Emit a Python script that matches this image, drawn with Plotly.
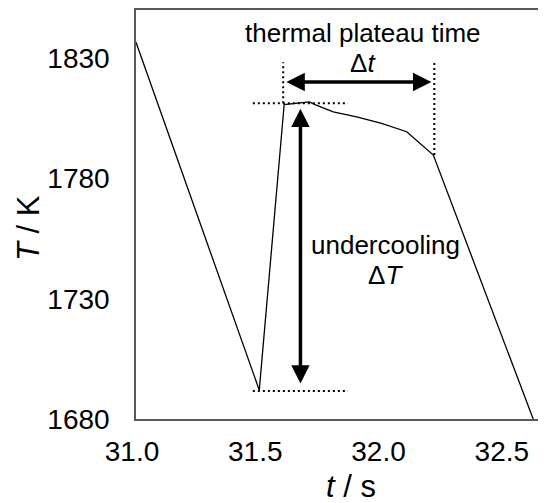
import plotly.graph_objects as go

# curve data (time in s, temperature in K)
t_vals = [31.0, 31.50, 31.601, 31.703, 31.726, 31.800, 31.895, 31.996, 32.098, 32.206, 32.611, 32.70]
T_vals = [1836.6, 1692.0, 1810.7, 1811.8, 1810.7, 1807.7, 1805.6, 1802.9, 1799.4, 1789.7, 1680.0, 1655.9]

x_ticks = [31.0, 31.5, 32.0, 32.5]
x_tick_labels = ["31.0", "31.5", "32.0", "32.5"]
y_ticks = [1680, 1730, 1780, 1830]
y_tick_labels = ["1680", "1730", "1780", "1830"]

# annotation guide values
t_plateau_start = 31.597
t_plateau_end = 32.210
T_plateau = 1811.2
T_min_guide = 1691.6
guide_x0, guide_x1 = 31.474, 31.860
guide_top = 1828.3
T_shoulder = 1789.7
arrow_h_y = 1820.1
arrow_h_x0, arrow_h_x1 = 31.604, 32.198
arrow_v_x = 31.667
arrow_v_y0, arrow_v_y1 = 1694.1, 1809.0

FONT = "Liberation Sans, Arial, sans-serif"

fig = go.Figure()
fig.add_trace(go.Scatter(x=t_vals, y=T_vals, mode="lines",
                         line=dict(color="black", width=1.3), showlegend=False,
                         hoverinfo="skip"))

dot = dict(color="black", width=2, dash="2px,3px")
shapes = [
    dict(type="line", x0=t_plateau_start, x1=t_plateau_start, y0=T_plateau, y1=guide_top, line=dot),
    dict(type="line", x0=t_plateau_end, x1=t_plateau_end, y0=T_shoulder, y1=guide_top, line=dot),
    dict(type="line", x0=guide_x0, x1=guide_x1, y0=T_plateau, y1=T_plateau, line=dot),
    dict(type="line", x0=guide_x0, x1=guide_x1, y0=T_min_guide, y1=T_min_guide, line=dot),
]
for s in shapes:
    s.update(xref="x", yref="y")
fig.update_layout(shapes=shapes)

arrow_common = dict(xref="x", yref="y", axref="x", ayref="y", text="",
                    showarrow=True, arrowhead=2, startarrowhead=2, arrowside="end+start",
                    arrowwidth=3.5, arrowsize=1.05, startarrowsize=1.05, arrowcolor="black")
fig.add_annotation(x=arrow_h_x1, y=arrow_h_y, ax=arrow_h_x0, ay=arrow_h_y, **arrow_common)
fig.add_annotation(x=arrow_v_x, y=arrow_v_y1, ax=arrow_v_x, ay=arrow_v_y0, **arrow_common)

txt = dict(xref="x", yref="y", showarrow=False, font=dict(family=FONT, size=26, color="black"),
           xanchor="center", yanchor="middle")
fig.add_annotation(x=31.920, y=1840.4, text="thermal plateau time", **txt)
fig.add_annotation(x=31.920, y=1827.9, text="Δ<i>t</i>", **txt)
fig.add_annotation(x=32.012, y=1752.3, text="undercooling", **txt)
fig.add_annotation(x=32.010, y=1739.8, text="Δ<i>T</i>", **txt)

# axis titles
fig.add_annotation(xref="paper", yref="paper", x=(28 - 136) / 410, y=(419 - 228) / 409,
                   text="<i>T</i> / K", textangle=-90, showarrow=False,
                   font=dict(family=FONT, size=31, color="black"),
                   xanchor="center", yanchor="middle")
fig.add_annotation(xref="paper", yref="paper", x=(351 - 136) / 410, y=(419 - 486) / 409,
                   text="<i>t</i> / s", showarrow=False,
                   font=dict(family=FONT, size=31, color="black"),
                   xanchor="center", yanchor="middle")

fig.update_xaxes(range=[31.0, 32.663], tickvals=x_ticks, ticktext=x_tick_labels,
                 showline=True, mirror=True, linecolor="#595959", linewidth=1.5,
                 showgrid=False, zeroline=False, ticks="",
                 tickfont=dict(family=FONT, size=28, color="black"),
                 ticklabelstandoff=7, ticklabelshift=-4)
fig.update_yaxes(range=[1680, 1850], tickvals=y_ticks, ticktext=y_tick_labels,
                 showline=True, mirror=False, linecolor="#595959", linewidth=1.5,
                 showgrid=False, zeroline=False, ticks="",
                 tickfont=dict(family=FONT, size=28, color="black"),
                 ticklabelstandoff=19)

# the page body adds an 8px offset, so the figure is 8px smaller and margins shifted
fig.update_layout(width=538, height=495, margin=dict(l=128, r=0, t=2, b=84),
                  plot_bgcolor="white", paper_bgcolor="white", showlegend=False)

fig.write_html("out.html")
